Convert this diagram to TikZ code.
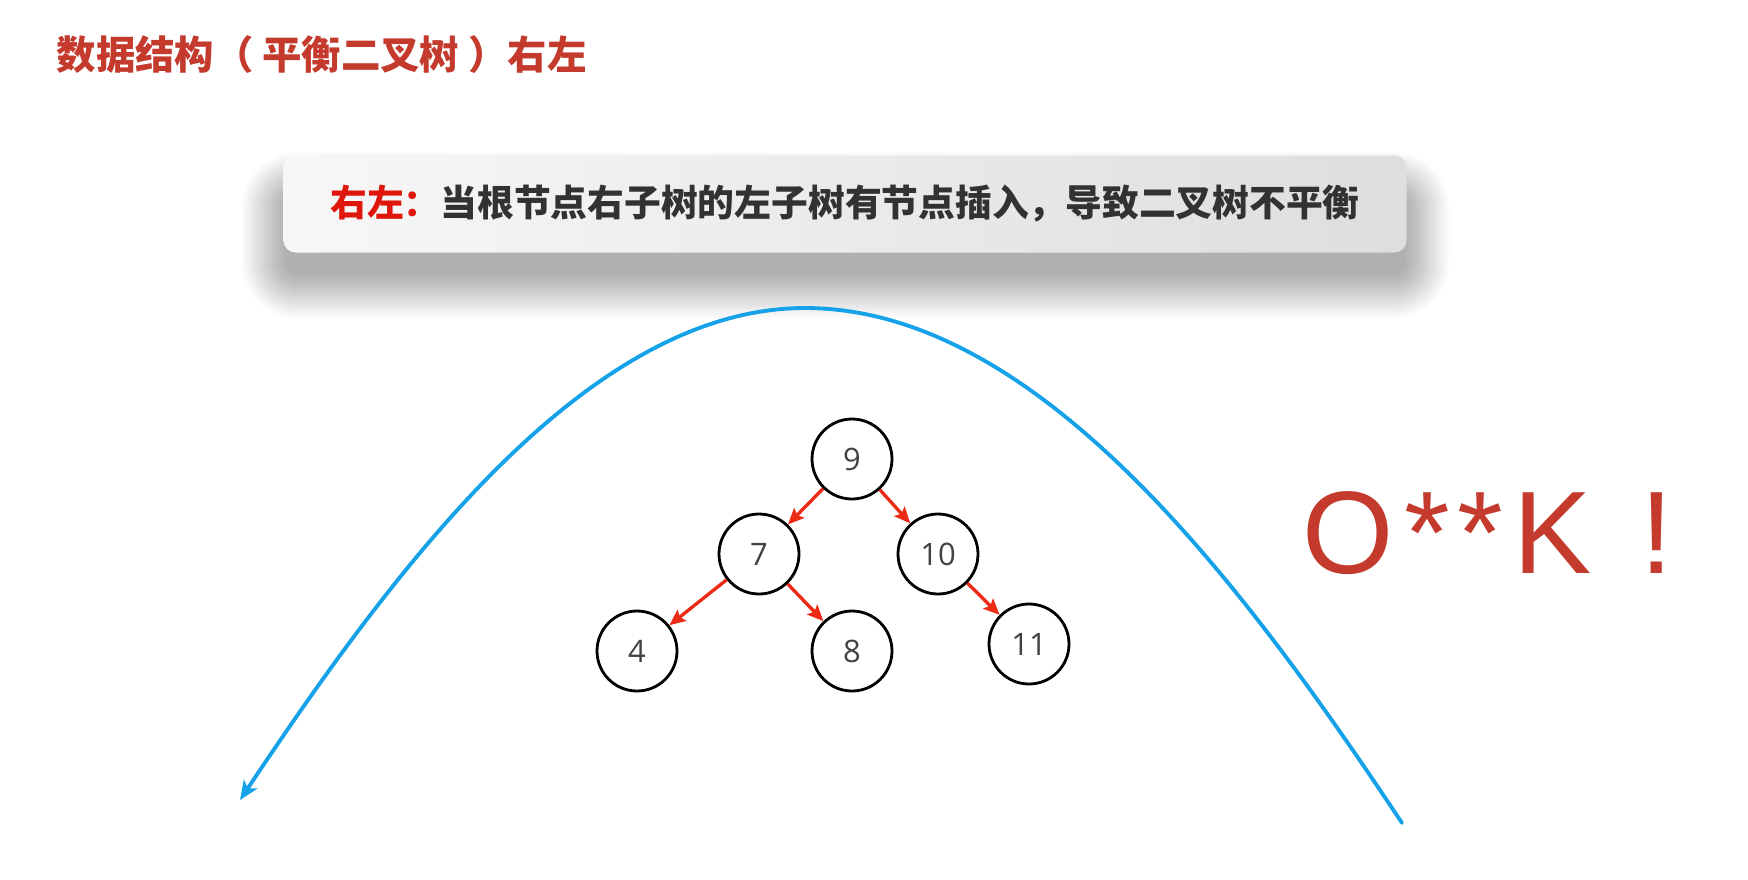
\documentclass[tikz,border=0pt]{standalone}
\usepackage{fontspec}
\setmainfont{Open Sans}
\newfontfamily\cjk{Noto Sans CJK SC}
\newfontfamily\okfont{Liberation Sans}
\usepackage{xcolor}
\usepackage{tikz}
\usetikzlibrary{arrows.meta}

\definecolor{titlered}{RGB}{196,58,44}
\definecolor{keyred}{RGB}{222,22,12}
\definecolor{arrowred}{RGB}{236,42,22}
\definecolor{curveblue}{RGB}{22,162,232}
\definecolor{textgray}{RGB}{50,50,50}
\definecolor{numgray}{RGB}{66,66,66}

\tikzset{
  treenode/.style={circle, draw=black, line width=0.8pt, minimum size=0.8cm,
    inner sep=0pt, text=numgray, font=\fontsize{8.8pt}{10pt}\selectfont},
  redarrow/.style={arrowred, line width=0.95pt,
    -{Stealth[length=0.16cm, width=0.14cm, inset=0.03cm]}},
  notebox/.style={rounded corners=0.12cm, minimum width=11.23cm, minimum height=0.97cm,
    left color=white!97!black, right color=black!13, draw=none},
  shadowlayer/.style={black, opacity=0.014}
}

\begin{document}
\begin{tikzpicture}[x=0.1mm, y=-0.1mm]

\useasboundingbox[fill=white] (0,0) rectangle (1748,879);

\coordinate (ttl) at (56,55);
\coordinate (box) at (845,204);
\coordinate (ok) at (1302,573);

\coordinate (c9) at (852,459);
\coordinate (c7) at (759,554);
\coordinate (c10) at (938,554);
\coordinate (c4) at (637,651);
\coordinate (c8) at (852,651);
\coordinate (c11) at (1029,644);

\coordinate (bL) at (240,800);
\coordinate (bT) at (805,308);
\coordinate (bR) at (1402,823);

\node[anchor=west, inner sep=0pt, text=titlered, font=\cjk\bfseries\fontsize{11.2pt}{13pt}\selectfont]
  (title) at (ttl) {数据结构（ 平衡二叉树 ）右左};

\foreach \k in {0,...,20}{
  \pgfmathsetmacro\e{2.2*\k}
  \pgfmathsetlengthmacro\rc{1.2mm+\e*0.1mm}
  \fill[shadowlayer, rounded corners=\rc] (286-\e,196-\e) rectangle (1405+\e,274+\e);
}

\node[notebox, text=textgray, font=\cjk\bfseries\fontsize{10.46pt}{12pt}\selectfont]
  (note) at (box) {\textcolor{keyred}{右左：}当根节点右子树的左子树有节点插入，导致二叉树不平衡};

\foreach \i in {9,7,10,4,8,11}
  \node[treenode] (n\i) at (c\i) {\i};

\draw[redarrow] (n9)--(n7);
\draw[redarrow] (n9)--(n10);
\draw[redarrow] (n7)--(n4);
\draw[redarrow] (n7)--(n8);
\draw[redarrow] (n10)--(n11);

\draw[curveblue, line width=1.1pt, line cap=round,
  {Stealth[length=0.19cm, width=0.16cm, inset=0.05cm]}-]
  (bL) .. controls (390,575) and (585,308) .. (bT)
       .. controls (1038,308) and (1244,585) .. (bR);

\node[anchor=base west, inner sep=0pt, text=titlered,
  font=\okfont\fontsize{33.4pt}{36pt}\selectfont]
  (okk) at (ok) {O\hspace{3pt}*\hspace{2pt}*\hspace{3pt}K\hspace{14pt}!};

\end{tikzpicture}
\end{document}
